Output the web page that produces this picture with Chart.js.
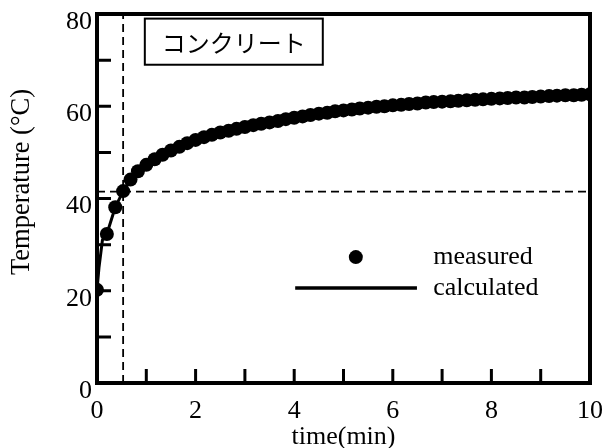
<!DOCTYPE html>
<html>
<head>
<meta charset="utf-8">
<script src="https://cdn.jsdelivr.net/npm/chart.js@4.4.1/dist/chart.umd.min.js"></script>
<style>
html, body { margin: 0; padding: 0; background: #fff; }
</style>
</head>
<body>
<canvas id="chart1" width="606" height="448"></canvas>
<script>
// measured temperature, sampled about every 10 s
const timeMeasured = [
  0, 0.2, 0.37, 0.53, 0.68, 0.83, 1.0, 1.17, 1.33, 1.5, 1.67, 1.83,
  2.0, 2.17, 2.33, 2.5, 2.67, 2.83, 3.0, 3.17, 3.33, 3.5, 3.67, 3.83,
  4.0, 4.17, 4.33, 4.5, 4.67, 4.83, 5.0, 5.17, 5.33, 5.5, 5.67, 5.83,
  6.0, 6.17, 6.33, 6.5, 6.67, 6.83, 7.0, 7.17, 7.33, 7.5, 7.67, 7.83,
  8.0, 8.17, 8.33, 8.5, 8.67, 8.83, 9.0, 9.17, 9.33, 9.5, 9.67, 9.83, 10.0
];
const tempMeasured = [
  20.2, 32.3, 38.1, 41.6, 44.1, 45.9, 47.3, 48.5, 49.5, 50.4, 51.2, 52.0,
  52.7, 53.3, 53.8, 54.3, 54.7, 55.1, 55.5, 55.9, 56.2, 56.5, 56.8, 57.2,
  57.5, 57.8, 58.1, 58.4, 58.6, 58.9, 59.1, 59.3, 59.5, 59.7, 59.9, 60.0,
  60.2, 60.3, 60.5, 60.6, 60.8, 60.9, 61.0, 61.1, 61.2, 61.3, 61.4, 61.5,
  61.6, 61.7, 61.8, 61.9, 61.9, 62.0, 62.1, 62.2, 62.3, 62.4, 62.4, 62.5, 62.6
];

// calculated curve
const timeCalc = [0, 0.04, 0.11, 0.2, 0.37, 0.53, 0.68, 1, 1.5, 2, 3, 4, 5, 6, 7, 8, 9, 10];
const tempCalc = [20.2, 25, 31, 32.3, 38.1, 41.6, 44.1, 47.3, 50.4, 52.7, 55.5, 57.5, 59.1, 60.2, 61.0, 61.6, 62.1, 62.6];

// dashed guide lines
const guideTime = 0.53;
const guideTemp = 41.5;

const xLabel = 'time(min)';
const yLabel = 'Temperature (°C)';
const boxText = 'コンクリート';
const legendNames = ['measured', 'calculated'];

const toPoints = (xs, ys) => xs.map((x, i) => ({ x: x, y: ys[i] }));

const serif = "'Liberation Serif', 'Times New Roman', serif";

// no extra room for overflowing tick labels
const noPad = s => {
  s.paddingLeft = 0; s.paddingRight = 0; s.paddingTop = 0; s.paddingBottom = 0;
};

// frame, inward ticks, label box, legend and y title
const extras = {
  id: 'extras',
  afterDatasetsDraw(chart) {
    const ctx = chart.ctx;
    const a = chart.chartArea;
    const xs = chart.scales.x;
    const ys = chart.scales.y;
    ctx.save();
    ctx.strokeStyle = '#000';
    ctx.fillStyle = '#000';

    // ticks
    ctx.lineWidth = 3;
    ctx.beginPath();
    xs.ticks.forEach(t => {
      const px = xs.getPixelForValue(t.value);
      ctx.moveTo(px, a.bottom);
      ctx.lineTo(px, a.bottom - 14);
    });
    ys.ticks.forEach(t => {
      const py = ys.getPixelForValue(t.value);
      ctx.moveTo(a.left, py);
      ctx.lineTo(a.left + 14, py);
    });
    ctx.stroke();

    // frame
    ctx.lineWidth = 4;
    ctx.strokeRect(a.left, a.top, a.right - a.left, a.bottom - a.top);

    // material label box
    const bx0 = xs.getPixelForValue(0.97), bx1 = xs.getPixelForValue(4.58);
    const by0 = ys.getPixelForValue(79.0), by1 = ys.getPixelForValue(69.0);
    ctx.fillStyle = '#fff';
    ctx.fillRect(bx0, by0, bx1 - bx0, by1 - by0);
    ctx.lineWidth = 2;
    ctx.strokeRect(bx0, by0, bx1 - bx0, by1 - by0);
    ctx.fillStyle = '#000';
    ctx.font = "24px 'Noto Sans CJK JP', sans-serif";
    ctx.textAlign = 'center';
    ctx.textBaseline = 'middle';
    ctx.fillText(boxText, (bx0 + bx1) / 2, (by0 + by1) / 2 + 1);

    // legend
    const dotX = xs.getPixelForValue(5.25), dotY = ys.getPixelForValue(27.3);
    ctx.beginPath();
    ctx.arc(dotX, dotY, 7, 0, Math.PI * 2);
    ctx.fill();
    const lineY = ys.getPixelForValue(20.6);
    ctx.lineWidth = 3.5;
    ctx.beginPath();
    ctx.moveTo(xs.getPixelForValue(4.02), lineY);
    ctx.lineTo(xs.getPixelForValue(6.49), lineY);
    ctx.stroke();
    ctx.font = '26px ' + serif;
    ctx.textAlign = 'left';
    const textX = xs.getPixelForValue(6.82);
    ctx.fillText(legendNames[0], textX, dotY);
    ctx.fillText(legendNames[1], textX, lineY);

    // y title
    ctx.save();
    ctx.translate(22, 182);
    ctx.rotate(-Math.PI / 2);
    ctx.textAlign = 'center';
    ctx.font = '26.5px ' + serif;
    ctx.fillText(yLabel, 0, 0);
    ctx.restore();

    ctx.restore();
  }
};

const ctx = document.getElementById('chart1').getContext('2d');
new Chart(ctx, {
  type: 'scatter',
  data: {
    datasets: [
      {
        label: legendNames[0],
        data: toPoints(timeMeasured, tempMeasured),
        backgroundColor: '#000',
        borderWidth: 0,
        pointRadius: 7,
        pointHoverRadius: 7
      },
      {
        label: legendNames[1],
        type: 'line',
        data: toPoints(timeCalc, tempCalc),
        borderColor: '#000',
        borderWidth: 3,
        pointRadius: 0,
        fill: false,
        tension: 0
      },
      {
        label: 'guide time',
        type: 'line',
        data: [{ x: guideTime, y: 0 }, { x: guideTime, y: 80 }],
        borderColor: '#000',
        borderWidth: 1.8,
        borderDash: [8, 5],
        pointRadius: 0,
        fill: false
      },
      {
        label: 'guide temp',
        type: 'line',
        data: [{ x: 0, y: guideTemp }, { x: 10, y: guideTemp }],
        borderColor: '#000',
        borderWidth: 1.8,
        borderDash: [8, 5],
        pointRadius: 0,
        fill: false
      }
    ]
  },
  options: {
    responsive: false,
    animation: false,
    devicePixelRatio: 1,
    layout: { padding: { left: 0, right: 16, top: 14, bottom: 0 } },
    plugins: {
      legend: { display: false },
      tooltip: { enabled: false }
    },
    scales: {
      x: {
        type: 'linear',
        min: 0,
        max: 10,
        grid: { display: false, drawTicks: false },
        border: { display: false },
        ticks: {
          stepSize: 1,
          padding: 13,
          color: '#000',
          font: { family: serif, size: 26 },
          maxRotation: 0,
          callback: v => (v % 2 === 0 ? v : '')
        },
        title: {
          display: true,
          text: xLabel,
          color: '#000',
          font: { family: serif, size: 26, lineHeight: 0.85 },
          padding: { top: 0, bottom: 0 }
        },
        afterFit: s => { s.height = 65; noPad(s); }
      },
      y: {
        type: 'linear',
        min: 0,
        max: 80,
        grid: { display: false, drawTicks: false },
        border: { display: false },
        ticks: {
          stepSize: 10,
          padding: 5,
          labelOffset: 8,
          color: '#000',
          font: { family: serif, size: 26 },
          callback: v => (v % 20 === 0 ? v : '')
        },
        afterFit: s => { s.width = 97; noPad(s); }
      }
    }
  },
  plugins: [extras]
});
</script>
</body>
</html>
